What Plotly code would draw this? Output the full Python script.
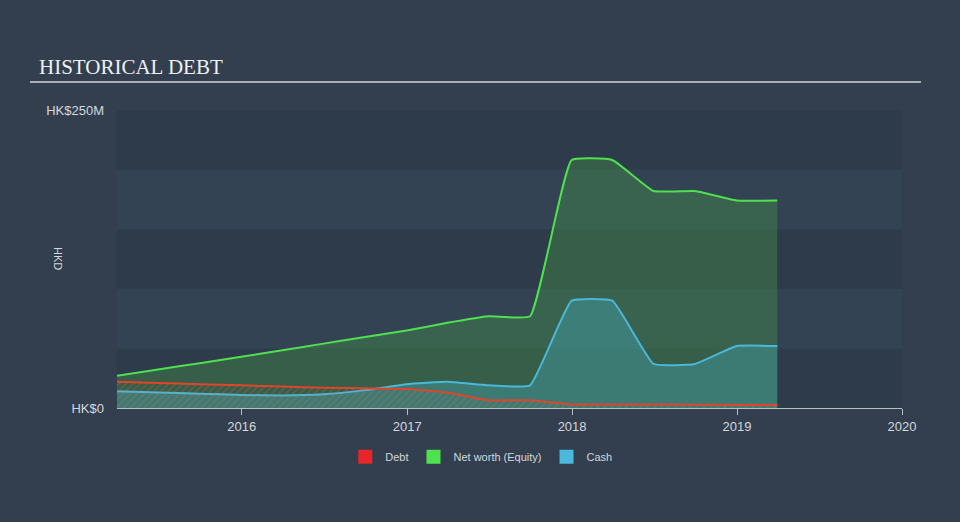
import plotly.graph_objects as go

dates = ["2015-03-31", "2015-06-30", "2015-09-30", "2015-12-31",
         "2016-03-31", "2016-06-30", "2016-09-30", "2016-12-31",
         "2017-03-31", "2017-06-30", "2017-09-30", "2017-12-31",
         "2018-03-31", "2018-06-30", "2018-09-30", "2018-12-31",
         "2019-03-31"]
equity = [27, 32.3, 37.6, 43, 48.5, 54, 59.5, 65, 71.5, 77, 77, 208, 208, 182, 182, 174, 174]
cash = [14, 13, 12, 11, 10.5, 11.5, 15, 20, 22, 19, 19, 90, 90, 37, 37, 52, 52]
debt = [22, 21, 20, 19, 18, 17, 16.5, 16, 13, 6.5, 6.5, 3, 3, 3, 2.8, 2.6, 2.5]

y_ticks = [0, 250]
y_tick_labels = ["HK$0", "HK$250M"]
x_ticks = ["2016-01-01", "2017-01-01", "2018-01-01", "2019-01-01", "2020-01-01"]
x_tick_labels = ["2016", "2017", "2018", "2019", "2020"]

BG = "#333f4e"
TXT = "#d2d7dd"
SM = 0.35

fig = go.Figure()

fig.add_trace(go.Scatter(
    x=dates, y=equity, mode="lines", fill="tozeroy",
    line=dict(color="#4fe04f", width=2, shape="spline", smoothing=SM),
    fillcolor="rgba(70,160,70,0.35)", showlegend=False, hoverinfo="skip"))
fig.add_trace(go.Scatter(
    x=dates, y=cash, mode="lines", fill="tozeroy",
    line=dict(color="#4ab8d8", width=2, shape="spline", smoothing=SM),
    fillcolor="rgba(70,170,190,0.38)", showlegend=False, hoverinfo="skip"))
fig.add_trace(go.Scatter(
    x=dates, y=debt, mode="lines", fill="tozeroy",
    line=dict(color="#e0452c", width=2, shape="spline", smoothing=SM),
    fillcolor="rgba(0,0,0,0)",
    fillpattern=dict(shape="/", fgcolor="rgba(225,100,70,0.55)", bgcolor="rgba(0,0,0,0)",
                     size=5, solidity=0.3),
    showlegend=False, hoverinfo="skip"))

for name, col in [("Debt", "#e8262a"), ("Net worth (Equity)", "#4ee34e"), ("Cash", "#4ab9dc")]:
    fig.add_trace(go.Scatter(x=[None], y=[None], mode="markers", name=name,
                             marker=dict(symbol="square", size=14, color=col)))

shapes = []
for i in range(5):
    shapes.append(dict(type="rect", xref="paper", yref="y", x0=0, x1=1,
                       y0=i * 50, y1=(i + 1) * 50, layer="below", line=dict(width=0),
                       fillcolor="#2e3b4b" if i % 2 == 0 else "#344353"))
shapes.append(dict(type="line", xref="paper", yref="paper",
                   x0=(30 - 117) / 785, x1=(921 - 117) / 785,
                   y0=(408 - 82) / 298, y1=(408 - 82) / 298,
                   line=dict(color="#a9b0b8", width=2)))

fig.update_layout(
    width=960, height=522,
    margin=dict(l=117, r=58, t=110, b=114),
    paper_bgcolor=BG, plot_bgcolor="rgba(0,0,0,0)",
    font=dict(family="Liberation Sans, Arial, sans-serif", color=TXT, size=12),
    shapes=shapes,
    showlegend=True,
    legend=dict(orientation="h", x=0.464, xanchor="center", y=-0.164, yanchor="middle",
                font=dict(size=11, color=TXT), bgcolor="rgba(0,0,0,0)",
                itemwidth=30),
    annotations=[
        dict(text="HISTORICAL DEBT", xref="paper", yref="paper",
             x=(37 - 117) / 785, y=(408 - 67) / 298, xanchor="left", yanchor="middle",
             showarrow=False, font=dict(family="Liberation Serif, Times New Roman, serif",
                                        size=21, color="#eef0f2")),
        dict(text="HKD", xref="paper", yref="paper", x=(50 - 117) / 785, y=(408 - 258) / 298,
             textangle=90, showarrow=False, font=dict(size=11, color=TXT)),
    ],
)

fig.update_xaxes(
    type="date", range=["2015-03-31", "2020-01-01"],
    tickvals=x_ticks, ticktext=x_tick_labels,
    showgrid=False, zeroline=False,
    showline=True, linecolor="#b8bec6", linewidth=1,
    ticks="outside", ticklen=6, tickcolor="#b8bec6",
    tickfont=dict(size=13, color=TXT))
fig.update_yaxes(
    range=[0, 250], tickvals=y_ticks, ticktext=y_tick_labels,
    showgrid=False, zeroline=False, showline=False, ticks="",
    ticklabelstandoff=12, tickfont=dict(size=13, color=TXT))

fig.write_html("out.html")
